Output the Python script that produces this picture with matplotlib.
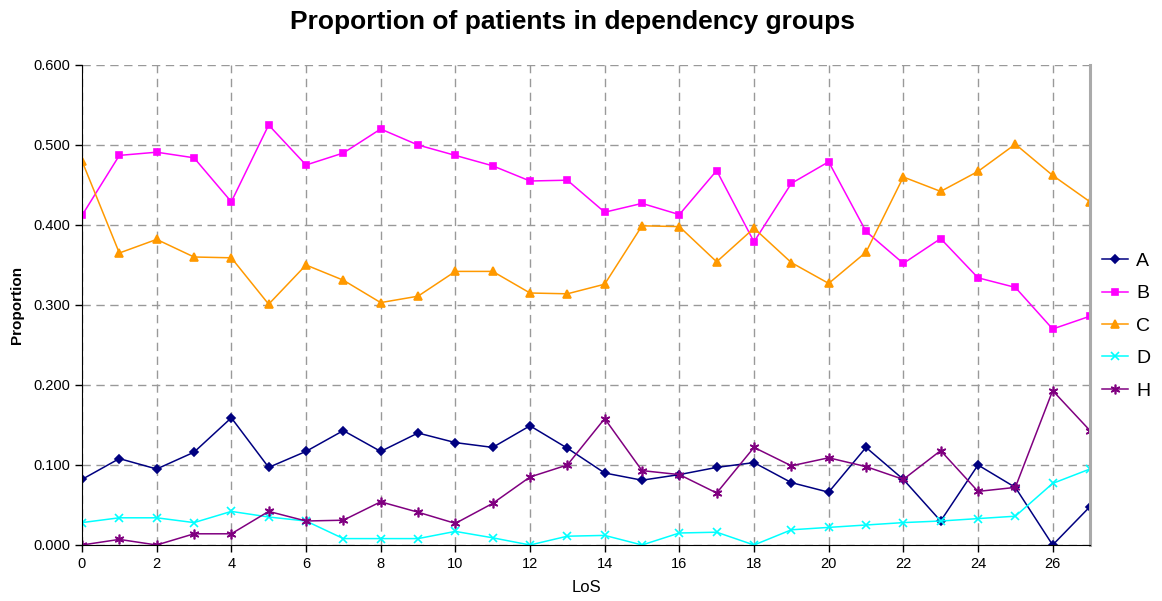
import matplotlib
matplotlib.use("Agg")
import matplotlib.pyplot as plt
from matplotlib.ticker import FormatStrFormatter, MultipleLocator

plt.rcParams['font.family'] = ['Liberation Sans', 'DejaVu Sans']

los = list(range(28))
A = [0.082, 0.108, 0.095, 0.116, 0.159, 0.097, 0.117, 0.143, 0.117, 0.140,
     0.128, 0.122, 0.149, 0.121, 0.090, 0.081, 0.088, 0.097, 0.103, 0.078,
     0.066, 0.122, 0.082, 0.030, 0.100, 0.072, 0.000, 0.048]
B = [0.412, 0.487, 0.491, 0.484, 0.429, 0.525, 0.475, 0.490, 0.520, 0.500,
     0.487, 0.474, 0.455, 0.456, 0.416, 0.427, 0.413, 0.468, 0.379, 0.452,
     0.479, 0.392, 0.352, 0.383, 0.334, 0.322, 0.270, 0.286]
C = [0.480, 0.365, 0.382, 0.360, 0.359, 0.301, 0.350, 0.331, 0.303, 0.311,
     0.342, 0.342, 0.315, 0.314, 0.326, 0.399, 0.398, 0.354, 0.396, 0.353,
     0.327, 0.366, 0.460, 0.442, 0.467, 0.501, 0.462, 0.429]
D = [0.028, 0.034, 0.034, 0.028, 0.042, 0.035, 0.030, 0.008, 0.008, 0.008,
     0.017, 0.009, 0.000, 0.011, 0.012, 0.000, 0.015, 0.016, 0.000, 0.019,
     0.022, 0.025, 0.028, 0.030, 0.033, 0.036, 0.077, 0.095]
H = [0.000, 0.007, 0.000, 0.014, 0.014, 0.042, 0.030, 0.031, 0.054, 0.041,
     0.027, 0.052, 0.085, 0.100, 0.158, 0.093, 0.088, 0.065, 0.122, 0.099,
     0.109, 0.098, 0.082, 0.118, 0.067, 0.072, 0.193, 0.143]

series = [
    ('A', A, '#000080', 'D', 4.5),
    ('B', B, '#FF00FF', 's', 5),
    ('C', C, '#FF9900', '^', 6),
    ('D', D, '#00FFFF', 'x', 5.5),
    ('H', H, '#800080', (6, 2, 0), 7),
]

fig = plt.figure(figsize=(11.62, 6.01), dpi=100)
ax = fig.add_axes([82/1162, 1-545/601, (1090-82)/1162, (545-65)/601])

for name, vals, col, mk, ms in series:
    ax.plot(los, vals, color=col, marker=mk, markersize=ms, linewidth=1.1,
            markeredgewidth=1.2, label=name)

ax.set_xlim(0, 27)
ax.set_ylim(0, 0.6)
ax.xaxis.set_major_locator(MultipleLocator(2))
ax.yaxis.set_major_locator(MultipleLocator(0.1))
ax.yaxis.set_major_formatter(FormatStrFormatter('%.3f'))
ax.grid(True, color='#999999', linestyle=(0, (6, 4)), linewidth=1)
ax.set_axisbelow(True)
ax.tick_params(axis='both', labelsize=10.5, direction='out', length=5, width=1, color='black')
ax.tick_params(axis='x', pad=4)

ax.spines['top'].set_visible(False)
ax.spines['right'].set_color('#aaaaaa')
ax.spines['right'].set_linewidth(2.2)
ax.spines['left'].set_color('black')
ax.spines['bottom'].set_color('black')

ax.set_xlabel('LoS', fontsize=12, labelpad=6)
fig.text(17/1162, 1-305/601, 'Proportion', rotation=90, ha='center', va='center',
         fontsize=11, fontweight='bold')

fig.text(573/1162, 1-22/601, 'Proportion of patients in dependency groups',
         ha='center', va='center', fontsize=19, fontweight='bold')

leg = fig.legend(*ax.get_legend_handles_labels(), loc='center left',
                 bbox_to_anchor=(1102/1162, 1-326/601), frameon=False,
                 fontsize=14, handlelength=1.35, labelspacing=0.76, handletextpad=0.4,
                 borderaxespad=0.0, borderpad=0.0)

fig.savefig('out.png', dpi=100)
